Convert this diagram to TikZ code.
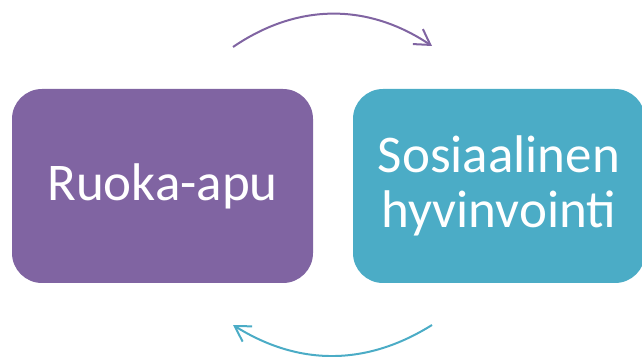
\documentclass[tikz,border=0pt]{standalone}
\usepackage{fontspec}
\setmainfont{Carlito}
\usetikzlibrary{arrows.meta,positioning}
\definecolor{foodcolor}{HTML}{8064A2}
\definecolor{wellcolor}{HTML}{4BACC6}
\newcommand{\corner}{30pt}
\newcommand{\linew}{2pt}
\tikzset{
  box/.style={rectangle, rounded corners=\corner, inner sep=0pt, text=white,
    align=center, minimum height=194pt, font=\fontsize{53}{55}\selectfont},
  cycle/.style={line width=\linew, -{Straight Barb[length=15pt,width=18pt,line width=\linew]}}
}

\begin{document}
\begin{tikzpicture}[x=1pt,y=1pt]
\useasboundingbox (0,0) rectangle (642,356);
\node[box, fill=foodcolor, minimum width=301pt] (food) at (162.5,170) {Ruoka-apu};
\node[box, fill=wellcolor, minimum width=292pt] (well) at (499,170) {Sosiaalinen\\hyvinvointi};
%arrows
\coordinate (ta) at (233,309);
\coordinate (tb) at (432,310);
\coordinate (ba) at (432,31);
\coordinate (bb) at (233,31);
\draw[cycle, foodcolor] (ta) to[bend left=34] (tb);
\draw[cycle, wellcolor] (ba) to[bend left=32] (bb);
\end{tikzpicture}
\end{document}
